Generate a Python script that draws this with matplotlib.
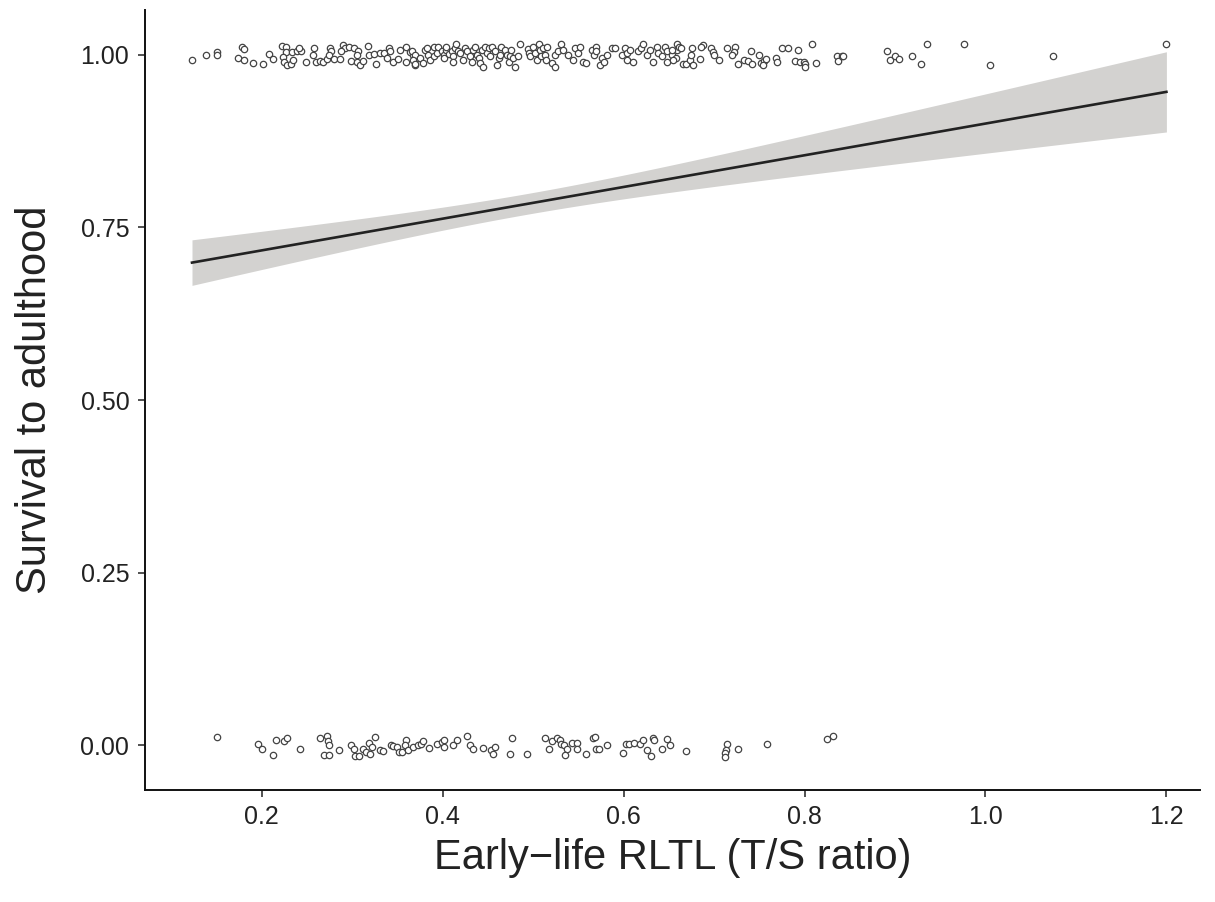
import numpy as np
import matplotlib
matplotlib.use("Agg")
import matplotlib.pyplot as plt

plt.rcParams['font.family'] = ['Liberation Sans', 'DejaVu Sans']

# jittered points, survived (y ~ 1)
surv_x = [0.123, 0.138, 0.151, 0.151, 0.178, 0.181, 0.174, 0.181, 0.190, 0.201,
          0.208, 0.213, 0.222, 0.227, 0.227, 0.224, 0.225, 0.228, 0.232, 0.235,
          0.234, 0.239, 0.244, 0.241, 0.249, 0.258, 0.257, 0.260, 0.264, 0.268,
          0.272, 0.275, 0.277, 0.274, 0.280, 0.287, 0.290, 0.292, 0.288, 0.296,
          0.302, 0.307, 0.305, 0.299, 0.305, 0.309, 0.312, 0.318, 0.319, 0.326,
          0.324, 0.331, 0.335, 0.341, 0.342, 0.338, 0.345, 0.351, 0.353, 0.360,
          0.360, 0.364, 0.367, 0.369, 0.373,
          0.366, 0.369, 0.367, 0.370, 0.375, 0.378, 0.380, 0.383, 0.384, 0.386,
          0.390, 0.390, 0.394, 0.395, 0.399, 0.401, 0.402, 0.404, 0.404, 0.407,
          0.410, 0.412, 0.411, 0.414, 0.415, 0.417, 0.419, 0.423, 0.425, 0.427,
          0.430, 0.432, 0.434, 0.436, 0.438, 0.440, 0.441, 0.443, 0.445, 0.447,
          0.449, 0.451, 0.452, 0.455, 0.458, 0.460, 0.462, 0.463, 0.465, 0.469,
          0.471, 0.473, 0.475, 0.476, 0.478, 0.480, 0.483, 0.486, 0.494, 0.495,
          0.497, 0.500, 0.502, 0.504, 0.506, 0.508, 0.509, 0.511, 0.513, 0.514,
          0.515, 0.521, 0.524, 0.524, 0.528, 0.531, 0.533, 0.539, 0.544, 0.546,
          0.550, 0.552, 0.555, 0.559, 0.565, 0.567, 0.569, 0.570, 0.574, 0.576,
          0.578, 0.582, 0.587, 0.591, 0.598, 0.602, 0.604, 0.604, 0.607, 0.610,
          0.616, 0.619, 0.622, 0.626, 0.629, 0.633, 0.637, 0.638, 0.642, 0.646,
          0.648, 0.648, 0.653, 0.659,
          0.654, 0.659, 0.661, 0.664, 0.658, 0.655, 0.666, 0.669, 0.673, 0.676,
          0.677, 0.675, 0.685, 0.688, 0.686, 0.697, 0.699, 0.700, 0.705, 0.714,
          0.723, 0.722, 0.720, 0.727, 0.733, 0.737, 0.742, 0.741, 0.750, 0.752,
          0.755, 0.754, 0.757, 0.768, 0.770, 0.775, 0.782, 0.790, 0.793, 0.795,
          0.799, 0.800, 0.801, 0.808, 0.813, 0.836, 0.837, 0.841, 0.843, 0.891,
          0.895, 0.900, 0.904, 0.919, 0.929, 0.935,
          0.976, 1.005, 1.075, 1.200]
surv_y = [0.993, 1.000, 1.004, 0.999, 1.011, 1.008, 0.995, 0.993, 0.988, 0.987,
          1.001, 0.994, 1.013, 1.011, 1.004, 0.997, 0.990, 0.985, 0.987, 0.993,
          1.004, 1.006, 1.005, 1.010, 0.990, 1.010, 1.000, 0.989, 0.991, 0.989,
          0.994, 1.010, 1.006, 1.000, 0.994, 0.994, 1.014, 1.010, 1.005, 1.011,
          1.010, 1.006, 1.000, 0.991, 0.989, 0.985, 0.991, 1.013, 1.000, 0.986,
          1.001, 1.002, 1.002, 1.010, 1.005, 0.995, 0.990, 0.994, 1.007, 1.012,
          0.990, 1.004, 1.000, 0.985, 0.995,
          1.005, 0.999, 0.993, 0.986, 0.995, 0.988, 1.007, 1.010, 1.000, 0.993,
          1.011, 0.998, 1.002, 1.012, 1.006, 1.000, 0.995, 1.007, 1.011, 1.001,
          1.006, 0.998, 0.990, 1.010, 1.015, 1.005, 1.002, 0.993, 1.010, 1.005,
          0.998, 0.990, 1.007, 1.012, 1.000, 0.995, 0.988, 1.007, 0.983, 1.012,
          1.002, 1.010, 0.998, 1.012, 1.005, 0.985, 0.995, 1.000, 1.011, 1.007,
          1.000, 0.990, 0.998, 1.007, 0.995, 0.983, 0.998, 1.015, 1.009, 1.002,
          0.998, 1.012, 1.002, 0.993, 1.015, 1.007, 0.998, 1.010, 1.000, 0.993,
          1.012, 0.988, 0.983, 1.000, 1.005, 1.015, 1.007, 1.000, 0.993, 1.010,
          1.002, 1.011, 0.990, 0.988, 1.007, 1.000, 1.012, 1.005, 0.985, 0.995,
          0.990, 1.000, 1.010, 1.010, 1.000, 1.010, 1.002, 0.993, 1.007, 0.990,
          1.005, 1.010, 1.015, 1.000, 1.007, 0.990, 1.011, 1.002, 0.998, 1.011,
          1.005, 0.990, 1.000, 1.007,
          1.007, 1.015, 1.011, 1.010, 0.996, 0.993, 0.986, 0.986, 0.993, 1.010,
          0.985, 0.999, 0.994, 1.014, 1.011, 1.010, 1.004, 1.000, 0.993, 1.010,
          1.011, 1.004, 1.000, 0.986, 0.993, 0.991, 0.986, 1.006, 0.999, 0.988,
          0.991, 0.985, 0.994, 0.996, 0.990, 1.010, 1.010, 0.991, 1.007, 0.990,
          0.989, 0.986, 0.983, 1.015, 0.988, 0.998, 0.991, 0.998, 0.998, 1.006,
          0.993, 0.998, 0.994, 0.998, 0.986, 1.015,
          1.015, 0.985, 0.998, 1.015]

# jittered points, died (y ~ 0)
dead_x = [0.151, 0.196, 0.200, 0.216, 0.213, 0.225, 0.228, 0.242, 0.265, 0.272,
          0.273, 0.274, 0.269, 0.274, 0.285, 0.299, 0.302, 0.303, 0.308, 0.312,
          0.315, 0.319, 0.322, 0.320, 0.325, 0.331, 0.334, 0.343, 0.345, 0.350,
          0.352, 0.355, 0.359, 0.358, 0.362, 0.367, 0.373,
          0.376, 0.378, 0.385, 0.394, 0.399, 0.402, 0.401, 0.412, 0.416, 0.427,
          0.430, 0.434, 0.445, 0.453, 0.458, 0.456, 0.474, 0.477, 0.493, 0.513,
          0.518, 0.521, 0.526, 0.530, 0.531, 0.534, 0.537, 0.535, 0.543, 0.549,
          0.549, 0.558, 0.566, 0.568, 0.569, 0.573, 0.582, 0.599, 0.603, 0.606,
          0.611, 0.618, 0.621, 0.626, 0.630, 0.632, 0.634, 0.643, 0.648, 0.651,
          0.669, 0.714, 0.713, 0.712, 0.712, 0.726, 0.758, 0.825, 0.831]
dead_y = [0.012, 0.002, -0.006, 0.007, -0.014, 0.006, 0.011, -0.006, 0.010, 0.014,
          0.006, 0.000, -0.014, -0.014, -0.007, 0.001, -0.005, -0.015, -0.015, -0.006,
          -0.010, 0.004, -0.002, -0.012, 0.012, -0.007, -0.009, 0.000, -0.001, -0.002,
          -0.010, -0.010, 0.007, 0.000, -0.007, -0.002, 0.000,
          0.002, 0.006, -0.004, 0.002, 0.005, 0.007, -0.002, 0.000, 0.007, 0.014,
          0.000, -0.006, -0.004, -0.007, -0.002, -0.012, -0.012, 0.011, -0.012, 0.011,
          -0.006, 0.006, 0.010, 0.007, 0.002, 0.000, -0.006, -0.014, 0.004, 0.004,
          -0.005, -0.012, 0.010, 0.012, -0.006, -0.006, 0.000, -0.011, 0.002, 0.002,
          0.004, 0.002, 0.007, -0.007, -0.015, 0.010, 0.007, -0.006, 0.009, 0.000,
          -0.009, 0.002, -0.007, -0.011, -0.017, -0.006, 0.002, 0.009, 0.013]

# linear fit: intercept, slope, and CI half-width parameters
fit_b0 = 0.6708
fit_b1 = 0.2296
ci_min_hw = 0.015
ci_centre = 0.493
ci_curv = 0.0063

fig = plt.figure(figsize=(12.15, 9.02), dpi=100)
ax = fig.add_axes([0.119, 0.124, 0.869, 0.865])

ax.scatter(surv_x, surv_y, s=21, facecolors='white', edgecolors='#444444',
           linewidths=0.9, zorder=2)
ax.scatter(dead_x, dead_y, s=21, facecolors='white', edgecolors='#444444',
           linewidths=0.9, zorder=2)

all_x = np.array(surv_x + dead_x)
xs = np.linspace(all_x.min(), all_x.max(), 100)
ys = fit_b0 + fit_b1 * xs
hw = np.sqrt(ci_min_hw ** 2 + ci_curv * (xs - ci_centre) ** 2)
ax.fill_between(xs, ys - hw, ys + hw, color='#d3d2d0', linewidth=0, zorder=3)
ax.plot(xs, ys, color='#222222', linewidth=1.9, zorder=4)

ax.set_xlim(0.0706, 1.2376)
ax.set_ylim(-0.065, 1.065)
ax.set_xticks([0.2, 0.4, 0.6, 0.8, 1.0, 1.2])
ax.set_xticklabels(['0.2', '0.4', '0.6', '0.8', '1.0', '1.2'])
ax.set_yticks([0.0, 0.25, 0.5, 0.75, 1.0])
ax.set_yticklabels(['0.00', '0.25', '0.50', '0.75', '1.00'])

for s in ['top', 'right']:
    ax.spines[s].set_visible(False)
for s in ['left', 'bottom']:
    ax.spines[s].set_linewidth(1.4)
    ax.spines[s].set_color('#111111')
ax.tick_params(axis='both', length=5, width=1.2, color='#333333',
               labelsize=18, labelcolor='#222222', pad=6)

ax.set_xlabel('Early\u2212life RLTL (T/S ratio)', fontsize=30, color='#222222', labelpad=6)
ax.set_ylabel('Survival to adulthood', fontsize=30, color='#222222', labelpad=18)

fig.savefig('out.png', dpi=100)
